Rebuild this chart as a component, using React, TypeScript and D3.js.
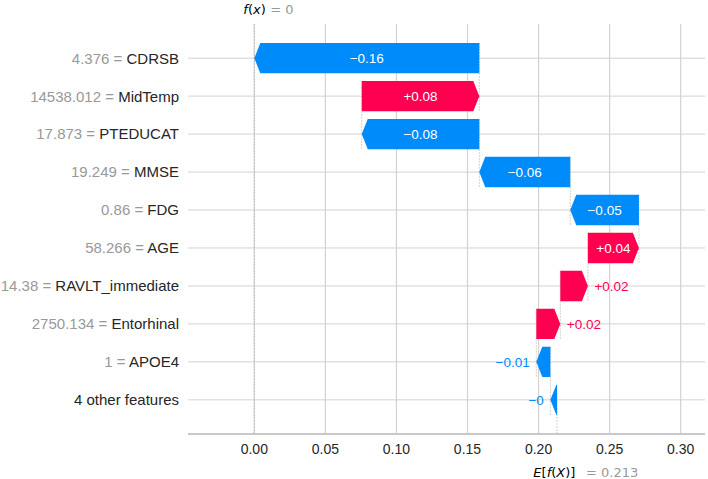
import React from "react";
import * as d3 from "d3";

// ---- data (top row first) ----
const featureNames = [
  "CDRSB",
  "MidTemp",
  "PTEDUCAT",
  "MMSE",
  "FDG",
  "AGE",
  "RAVLT_immediate",
  "Entorhinal",
  "APOE4",
  "4 other features",
];
const featureValues = [
  "4.376",
  "14538.012",
  "17.873",
  "19.249",
  "0.86",
  "58.266",
  "14.38",
  "2750.134",
  "1",
  "",
];
const shapValues = [
  -0.1583, 0.0827, -0.0827, -0.064, -0.0483, 0.0359, 0.0194, 0.0169, -0.0099,
  -0.0047,
];
const baseValue = 0.213;
const xTicks = [0, 0.05, 0.1, 0.15, 0.2, 0.25, 0.3];

const W = 708;
const H = 479;
const plotLeft = 188;
const plotRight = 705;
const plotTop = 24;
const plotBottom = 434;

const RED = "#ff0051";
const BLUE = "#008bfb";
const GRID = "#d2d2d2";
const SANS = "'Liberation Sans', Arial, sans-serif";
const MATH = "'DejaVu Sans', sans-serif";

function strip(v: number, digits: number): string {
  let s = Math.abs(v).toFixed(digits);
  if (s.includes(".")) s = s.replace(/0+$/, "").replace(/\.$/, "");
  return s;
}
function signed(v: number): string {
  const s = strip(v, 2);
  return (v < 0 ? "\u2212" : "+") + s;
}

export default function App() {
  const n = featureNames.length;
  const x = d3
    .scaleLinear()
    .domain([-0.04665, 0.3171])
    .range([plotLeft, plotRight]);
  const y = d3
    .scaleLinear()
    .domain([-0.9, n - 1 + 0.9])
    .range([plotTop, plotBottom]);
  const rowH = y(1) - y(0);
  const hh = 0.4 * rowH;
  const headLen = 6;

  const starts: number[] = new Array(n);
  const ends: number[] = new Array(n);
  let cur = baseValue;
  for (let i = n - 1; i >= 0; i--) {
    starts[i] = cur;
    cur += shapValues[i];
    ends[i] = cur;
  }
  const fx = cur;
  const fxRounded = Math.abs(fx) < 0.0005 ? 0 : fx;
  const fxLabel = (fxRounded < 0 ? "\u2212" : "") + strip(fxRounded, 3);
  const baseLabel = strip(baseValue, 3);

  const arrowPath = (s: number, e: number, yc: number) => {
    const x0 = x(s);
    const x1 = x(e);
    const dir = x1 >= x0 ? 1 : -1;
    const len = Math.abs(x1 - x0);
    const h = Math.min(len, headLen);
    const xb = x1 - dir * h;
    return `M${x0},${yc - hh}L${xb},${yc - hh}L${x1},${yc}L${xb},${yc + hh}L${x0},${yc + hh}Z`;
  };

  const labelFont = 13.5;

  return (
    <svg
      width={W}
      height={H}
      style={{ position: "absolute", left: 0, top: 0, background: "#fff" }}
      fontFamily={SANS}
    >
      {/* vertical grid */}
      {xTicks.map((t) => (
        <line
          key={"vg" + t}
          x1={x(t)}
          x2={x(t)}
          y1={plotTop}
          y2={plotBottom}
          stroke={GRID}
          strokeWidth={1.2}
        />
      ))}
      {/* horizontal grid */}
      {featureNames.map((_, i) => (
        <line
          key={"hg" + i}
          x1={plotLeft}
          x2={plotRight}
          y1={y(i)}
          y2={y(i)}
          stroke={GRID}
          strokeWidth={1}
        />
      ))}
      {/* bottom spine */}
      <line
        x1={plotLeft}
        x2={plotRight}
        y1={plotBottom}
        y2={plotBottom}
        stroke="#c8c8c8"
        strokeWidth={1.8}
      />
      {/* connector dashed lines */}
      {featureNames.slice(0, n - 1).map((_, i) => (
        <line
          key={"cl" + i}
          x1={x(starts[i])}
          x2={x(starts[i])}
          y1={y(i) - hh}
          y2={y(i + 1) + hh}
          stroke="#bbbbbb"
          strokeWidth={0.7}
          strokeDasharray="2,1"
        />
      ))}
      <line
        x1={x(baseValue)}
        x2={x(baseValue)}
        y1={plotBottom}
        y2={plotBottom - (plotBottom - plotTop) / n}
        stroke="#bbbbbb"
        strokeWidth={0.7}
        strokeDasharray="2,1"
      />
      <line
        x1={x(fx)}
        x2={x(fx)}
        y1={plotTop}
        y2={plotBottom}
        stroke="#bbbbbb"
        strokeWidth={0.7}
        strokeDasharray="2,1"
      />
      {/* bars */}
      {featureNames.map((_, i) => (
        <path
          key={"b" + i}
          d={arrowPath(starts[i], ends[i], y(i))}
          fill={shapValues[i] >= 0 ? RED : BLUE}
        />
      ))}
      {/* value labels */}
      {featureNames.map((_, i) => {
        const txt = signed(shapValues[i]);
        const wPx = Math.abs(x(ends[i]) - x(starts[i]));
        const estW = txt.length * 0.56 * labelFont;
        const inside = estW < wPx;
        const pos = shapValues[i] >= 0;
        let tx: number;
        let anchor: string;
        let color: string;
        if (inside) {
          tx = (x(starts[i]) + x(ends[i])) / 2;
          anchor = "middle";
          color = "#ffffff";
        } else if (pos) {
          tx = x(ends[i]) + 6.5;
          anchor = "start";
          color = RED;
        } else {
          tx = x(ends[i]) - 6.5;
          anchor = "end";
          color = BLUE;
        }
        return (
          <text
            key={"v" + i}
            x={tx}
            y={y(i)}
            dy="0.36em"
            textAnchor={anchor}
            fill={color}
            fontSize={labelFont}
          >
            {txt}
          </text>
        );
      })}
      {/* feature labels */}
      {featureNames.map((name, i) => (
        <text
          key={"f" + i}
          x={179}
          y={y(i)}
          dy="0.36em"
          textAnchor="end"
          fontSize={15}
        >
          {featureValues[i] !== "" && (
            <tspan fill="#999999">{featureValues[i] + " = "}</tspan>
          )}
          <tspan fill="#262626">{name}</tspan>
        </text>
      ))}
      {/* x tick labels */}
      {xTicks.map((t) => (
        <text
          key={"xt" + t}
          x={x(t)}
          y={453.5}
          textAnchor="middle"
          fontSize={14}
          fill="#262626"
        >
          {d3.format(".2f")(t)}
        </text>
      ))}
      {/* f(x) label */}
      <text x={x(fx) - 11} y={14} fontFamily={MATH} fontSize={13} fill="#000">
        <tspan fontStyle="italic">f</tspan>(<tspan fontStyle="italic">x</tspan>)
      </text>
      <text x={x(fx) + 16} y={14} fontFamily={MATH} fontSize={13} fill="#999999">
        {"= " + fxLabel}
      </text>
      {/* E[f(X)] label */}
      <text x={x(baseValue) - 23.7} y={476.5} fontFamily={MATH} fontSize={13} fill="#000">
        <tspan fontStyle="italic">E</tspan>[<tspan fontStyle="italic">f</tspan>(<tspan fontStyle="italic">X</tspan>)]
      </text>
      <text x={x(baseValue) + 29} y={476.5} fontFamily={MATH} fontSize={13} fill="#999999">
        {"= " + baseLabel}
      </text>
    </svg>
  );
}
